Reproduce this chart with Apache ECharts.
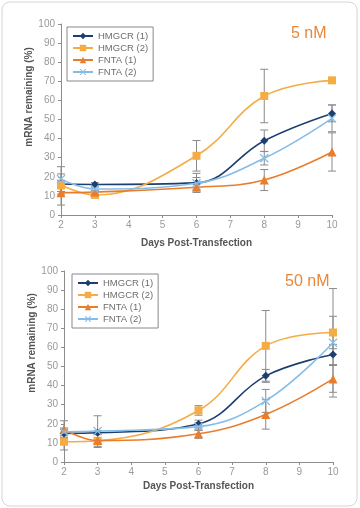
<!DOCTYPE html>
<html><head><meta charset="utf-8">
<script src="https://cdn.jsdelivr.net/npm/echarts@6/dist/echarts.min.js"></script>
<style>html,body{margin:0;padding:0;background:#fff}#c{width:360px;height:508px}</style>
</head><body><div id="c"></div>
<script>
var days = [2, 3, 6, 8, 10];
var seriesNames = ['HMGCR (1)', 'HMGCR (2)', 'FNTA (1)', 'FNTA (2)'];
var xTicks = [2, 3, 4, 5, 6, 7, 8, 9, 10];
var yTicks = [0, 10, 20, 30, 40, 50, 60, 70, 80, 90, 100];
var yTitle = 'mRNA remaining (%)';
var xTitle = 'Days Post-Transfection';
// 5 nM
var h1_5 = [16.2, 16.0, 16.8, 38.9, 53.2];
var h2_5 = [15.7, 10.5, 31.0, 62.3, 70.5];
var f1_5 = [11.7, 12.0, 14.5, 18.3, 33.0];
var f2_5 = [18.8, 13.6, 16.6, 29.7, 50.6];
var h1_5e = [5.3, 1.0, 5.0, 5.6, 4.4];
var h2_5e = [2.0, 1.0, 8.0, 14.0, 1.0];
var f1_5e = [6.5, 1.0, 1.5, 5.5, 10.0];
var f2_5e = [6.5, 1.0, 3.0, 3.5, 7.0];
// 50 nM
var h1_50 = [15.0, 15.3, 19.9, 45.1, 56.3];
var h2_50 = [10.6, 11.1, 27.0, 60.8, 67.8];
var f1_50 = [17.1, 11.2, 14.8, 24.9, 43.5];
var f2_50 = [15.8, 16.2, 18.5, 32.0, 62.4];
var h1_50e = [2.0, 1.0, 2.0, 3.4, 5.3];
var h2_50e = [4.3, 3.5, 2.5, 18.5, 8.5];
var f1_50e = [4.5, 1.5, 2.4, 7.7, 7.0];
var f2_50e = [2.0, 8.0, 2.0, 6.0, 28.4];

var colors = ['#1d3f70', '#f5ac45', '#e97d2b', '#86bde6'];
var crossPath = 'path://M1,0 L5,4 L9,0 L10,1 L6,5 L10,9 L9,10 L5,6 L1,10 L0,9 L4,5 L0,1 Z';
var symbols = ['diamond', 'rect', 'triangle', crossPath];
var symSizes = [8, 8, 9, 9];

var chart = echarts.init(document.getElementById('c'));

function pts(vals) { return days.map(function (d, i) { return [d, vals[i]]; }); }
function errs(vals, e) { return days.map(function (d, i) { return [d, vals[i] - e[i], vals[i] + e[i]]; }); }

function errSeries(idx, vals, e) {
  return {
    type: 'custom', xAxisIndex: idx, yAxisIndex: idx, z: 1, silent: true,
    data: errs(vals, e),
    renderItem: function (params, api) {
      var lo = api.coord([api.value(0), api.value(1)]);
      var hi = api.coord([api.value(0), api.value(2)]);
      var w = 4;
      var st = { stroke: '#8a8a8a', lineWidth: 1 };
      return { type: 'group', children: [
        { type: 'line', shape: { x1: lo[0], y1: lo[1], x2: hi[0], y2: hi[1] }, style: st },
        { type: 'line', shape: { x1: lo[0] - w, y1: lo[1], x2: lo[0] + w, y2: lo[1] }, style: st },
        { type: 'line', shape: { x1: hi[0] - w, y1: hi[1], x2: hi[0] + w, y2: hi[1] }, style: st }
      ]};
    }
  };
}

function lineSeries(idx, k, vals) {
  return {
    name: seriesNames[k], type: 'line', xAxisIndex: idx, yAxisIndex: idx, z: 3 + k,
    data: pts(vals), smooth: 0.4, symbol: symbols[k], symbolSize: symSizes[k], showSymbol: true,
    lineStyle: { color: colors[k], width: 1.6 }, itemStyle: { color: colors[k] },
    emphasis: { disabled: true }
  };
}

function xAxis(idx) {
  return {
    type: 'value', gridIndex: idx, min: 2, max: 10, interval: 1,
    name: xTitle, nameLocation: 'middle', nameGap: idx === 0 ? 23 : 19,
    nameTextStyle: { fontWeight: 'bold', fontSize: 10, color: '#555', fontFamily: 'Liberation Sans' },
    axisLine: { lineStyle: { color: '#8c8c8c' } },
    axisTick: { show: true, inside: false, length: 3, lineStyle: { color: '#8c8c8c' } },
    axisLabel: { fontSize: 10, color: '#999', margin: 5, fontFamily: 'Liberation Sans',
      customValues: xTicks },
    splitLine: { show: false }
  };
}
function yAxis(idx) {
  return {
    type: 'value', gridIndex: idx, min: 0, max: 100, interval: 10,
    axisLine: { show: true, lineStyle: { color: '#8c8c8c' } },
    axisTick: { show: true, inside: false, length: 3, lineStyle: { color: '#8c8c8c' } },
    axisLabel: { fontSize: 10, color: '#999', margin: 6, fontFamily: 'Liberation Sans' },
    splitLine: { show: false }
  };
}
function legend(left, top) {
  return {
    data: seriesNames, orient: 'vertical', left: left, top: top,
    borderColor: '#888', borderWidth: 1, borderRadius: 0, padding: [3, 5, 3, 5],
    itemGap: 0, itemWidth: 20, itemHeight: 8,
    textStyle: { fontSize: 9.5, color: '#6e6e6e', fontFamily: 'Liberation Sans', lineHeight: 12 },
    selectedMode: false
  };
}
function yName(x, y) {
  return { type: 'text', x: x, y: y, rotation: Math.PI / 2,
    style: { text: yTitle, fill: '#555', font: 'bold 10px "Liberation Sans"', align: 'center', verticalAlign: 'middle' } };
}

var option = {
  animation: false,
  grid: [
    { left: 61, right: 28, top: 24, bottom: 293 },
    { left: 64, right: 27, top: 271, bottom: 46 }
  ],
  xAxis: [xAxis(0), xAxis(1)],
  yAxis: [yAxis(0), yAxis(1)],
  legend: [legend(67, 27), legend(72, 274)],
  title: [
    { text: '5 nM', left: 291, top: 26, textStyle: { color: '#e8873a', fontSize: 16, fontWeight: 'normal', fontFamily: 'Liberation Sans' }, padding: 0 },
    { text: '50 nM', left: 285, top: 274, textStyle: { color: '#e8873a', fontSize: 16, fontWeight: 'normal', fontFamily: 'Liberation Sans' }, padding: 0 }
  ],
  graphic: [
    { type: 'rect', shape: { x: 2, y: 2, width: 355, height: 504, r: 8 }, style: { fill: 'none', stroke: '#d4d4d4', lineWidth: 1 }, z: -1 },
    yName(29, 97), yName(32, 343)
  ],
  series: [
    errSeries(0, h1_5, h1_5e), errSeries(0, h2_5, h2_5e), errSeries(0, f1_5, f1_5e), errSeries(0, f2_5, f2_5e),
    lineSeries(0, 0, h1_5), lineSeries(0, 1, h2_5), lineSeries(0, 2, f1_5), lineSeries(0, 3, f2_5),
    errSeries(1, h1_50, h1_50e), errSeries(1, h2_50, h2_50e), errSeries(1, f1_50, f1_50e), errSeries(1, f2_50, f2_50e),
    lineSeries(1, 0, h1_50), lineSeries(1, 1, h2_50), lineSeries(1, 2, f1_50), lineSeries(1, 3, f2_50)
  ]
};
chart.setOption(option);
</script></body></html>
